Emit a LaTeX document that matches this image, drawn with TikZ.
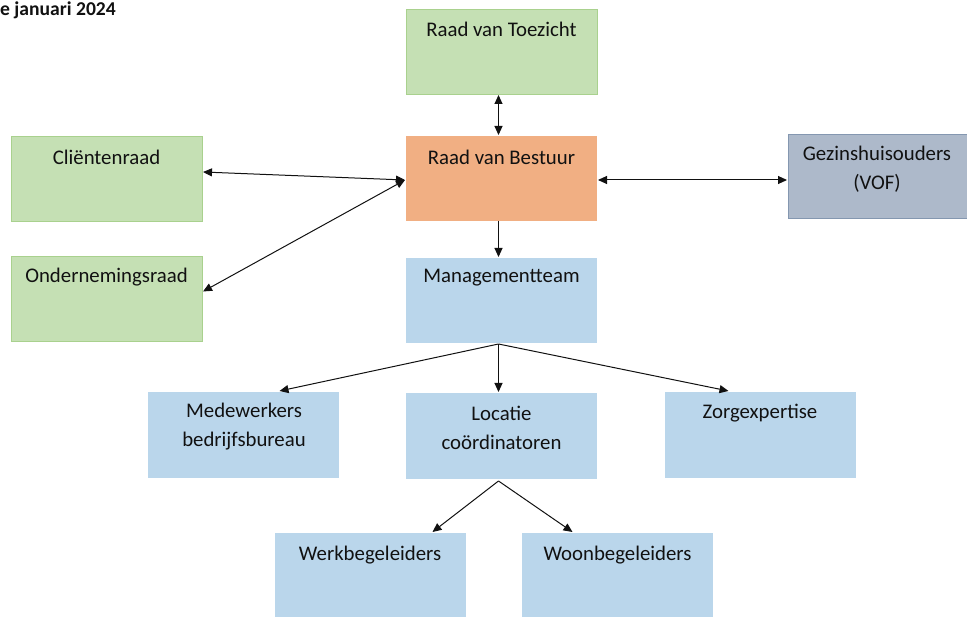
\documentclass[tikz,border=0pt]{standalone}
\usepackage{fontspec}
\setmainfont{Carlito}
\usetikzlibrary{arrows.meta,calc}
\definecolor{gfill}{HTML}{C5E0B4}
\definecolor{gline}{HTML}{A9D18E}
\definecolor{ofill}{HTML}{F1AF83}
\definecolor{bfill}{HTML}{BAD6EB}
\definecolor{sfill}{HTML}{ADB9CA}
\definecolor{sline}{HTML}{8497B0}
\definecolor{txt}{HTML}{111111}
\tikzset{
  box/.style={anchor=north west, minimum width=191pt, minimum height=85pt, inner sep=0pt, outer sep=0pt},
  gbox/.style={box, fill=gfill, draw=gline, line width=0.8pt},
  obox/.style={box, fill=ofill},
  bbox/.style={box, fill=bfill},
  sbox/.style={box, fill=sfill, draw=sline, line width=0.8pt, minimum width=180pt},
  lbl/.style={font=\fontsize{20.8}{29}\selectfont, text=txt, align=center, inner sep=0pt},
  conn/.style={line width=1pt, draw=txt, -{Triangle[length=9pt,width=8pt]}},
  dconn/.style={conn, {Triangle[length=9pt,width=8pt]}-{Triangle[length=9pt,width=8pt]}},
}
\begin{document}
\begin{tikzpicture}[x=1pt,y=-1pt]
\useasboundingbox (0,0) rectangle (967,617);
\node[font=\bfseries\fontsize{19.6}{24}\selectfont, text=txt, anchor=west, inner sep=0pt] (date) at (0,10) {e januari 2024};
% boxes
\node[gbox] (rvt) at (406,9) {};
\node[obox] (rvb) at (406,136) {};
\node[gbox] (cr) at (11,136) {};
\node[gbox] (or) at (11,256) {};
\node[sbox, minimum height=84pt] (gez) at (788,134) {};
\node[bbox] (mt) at (406,258) {};
\node[bbox, minimum height=86pt] (med) at (148,392) {};
\node[bbox, minimum height=86pt] (loc) at (406,393) {};
\node[bbox, minimum height=86pt] (zorg) at (665,392) {};
\node[bbox, minimum height=84pt] (werk) at (275,533) {};
\node[bbox, minimum height=84pt] (woon) at (522,533) {};
% labels
\node[lbl] (trvt) at (501.5,29) {Raad van Toezicht};
\node[lbl] (trvb) at (501.5,157) {Raad van Bestuur};
\node[lbl] (tcr) at (106.5,157) {Cliëntenraad};
\node[lbl] (tor) at (106.5,277) {Ondernemingsraad};
\node[lbl] (tgez) at (877,169) {Gezinshuisouders\\(VOF)};
\node[lbl] (tmt) at (501.5,278) {Managementteam};
\node[lbl] (tmed) at (244,427) {Medewerkers\\bedrijfsbureau};
\node[lbl] (tloc) at (501.5,428) {Locatie\\coördinatoren};
\node[lbl] (tzorg) at (760,413) {Zorgexpertise};
\node[lbl] (twerk) at (370,555) {Werkbegeleiders};
\node[lbl] (twoon) at (617.5,555) {Woonbegeleiders};
% connectors
\draw[dconn] ($(rvt.south)+(-3,1)$) -- ($(rvb.north)+(-3,-1)$);
\draw[dconn] ($(cr.east)+(1,-6.5)$) -- ($(rvb.west)+(-1,1.5)$);
\draw[dconn] ($(or.east)+(1,-7)$) -- ($(rvb.west)+(-1,1.5)$);
\draw[dconn] ($(rvb.east)+(1,1.5)$) -- ($(gez.west)+(-1,4)$);
\draw[conn] ($(rvb.south)+(-3,0)$) -- ($(mt.north)+(-3,-1)$);
\coordinate (mtb) at ($(mt.south)+(-3,1)$);
\draw[conn] (mtb) -- ($(med.north)+(36,-1)$);
\draw[conn] (mtb) -- ($(loc.north)+(-3,-1)$);
\draw[conn] (mtb) -- ($(zorg.north)+(-32,-1)$);
\coordinate (locb) at ($(loc.south)+(-3,2)$);
\draw[conn] (locb) -- ($(werk.north)+(62,-1)$);
\draw[conn] (locb) -- ($(woon.north)+(-45,-1)$);
\end{tikzpicture}
\end{document}
